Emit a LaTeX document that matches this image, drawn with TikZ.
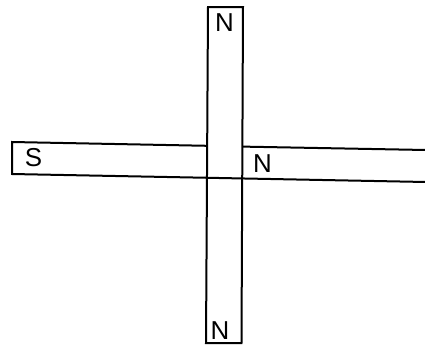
\documentclass[tikz,border=0pt]{standalone}
\usepackage{fontspec}
\setmainfont{Liberation Sans}
\begin{document}
\begin{tikzpicture}[x=1bp,y=-1bp,
  edge/.style={line width=2bp, line cap=butt, line join=miter},
  pole/.style={font=\fontsize{26}{26}\selectfont, inner sep=0pt}]
\useasboundingbox (0,0) rectangle (425,353);
\begin{scope}
\clip (0,0) rectangle (425,353);
% vertical magnet
\coordinate (vtl) at (208,7);
\coordinate (vtr) at (243,7);
\coordinate (vbr) at (241.5,343);
\coordinate (vbl) at (206,343);
\draw[edge] (vtl) -- (vtr) -- (vbr) -- (vbl) -- cycle;
% horizontal magnet
\coordinate (hlt) at (12,142);
\coordinate (hlb) at (12,174);
\coordinate (hrt) at (426,150);
\coordinate (hrb) at (426,182);
\coordinate (xl) at (207.3,145.8);
\coordinate (xr) at (242.2,146.6);
\draw[edge] (xl) -- (hlt) -- (hlb) -- (hrb);
\draw[edge] (xr) -- (hrt);
\end{scope}
% labels
\node[pole] (ntop) at (224.5,22.5) {N};
\node[pole] (sleft) at (33.5,158) {S};
\node[pole] (nmid) at (262.5,164) {N};
\node[pole] (nbot) at (220,330.5) {N};
\end{tikzpicture}
\end{document}
